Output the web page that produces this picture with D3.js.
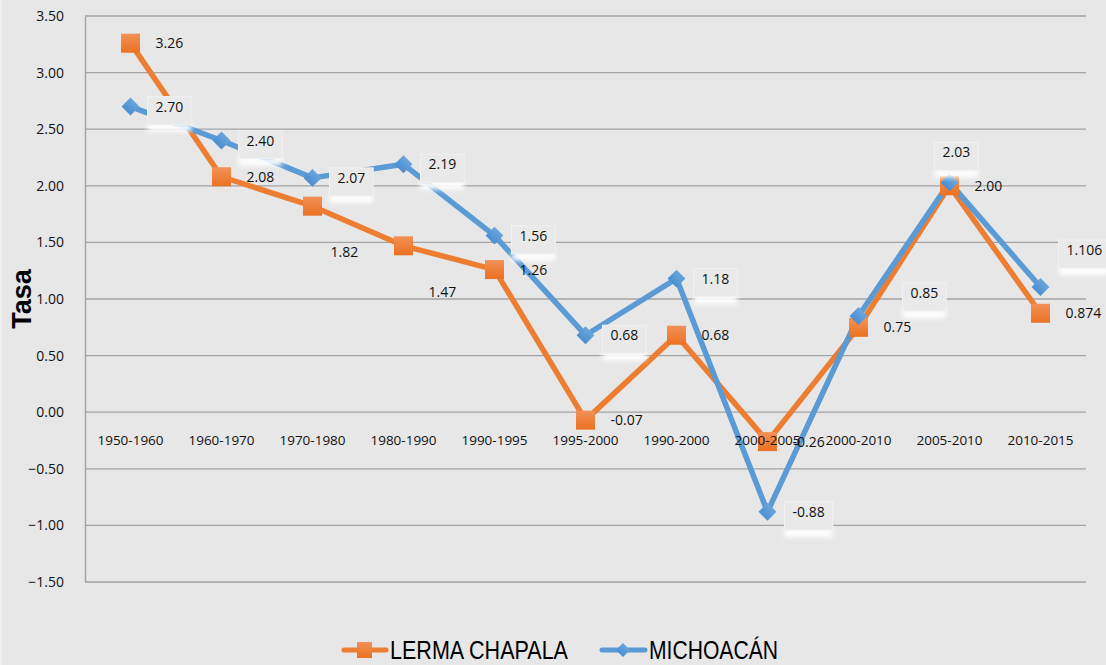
<!DOCTYPE html>
<html>
  <head>
    <meta charset="utf-8">
    <title>Tasa de crecimiento</title>
    <script src="https://d3js.org/d3.v7.min.js"></script>
    <style>
      body { margin: 0; background: #e7e7e7; }
      svg { display: block; }
    </style>
  </head>
  <body>
    <div id="chart"></div>
    <script>
      // Data
      var categories = ["1950-1960", "1960-1970", "1970-1980", "1980-1990", "1990-1995",
        "1995-2000", "1990-2000", "2000-2005", "2000-2010", "2005-2010", "2010-2015"];
      var lermaValues = [3.26, 2.08, 1.82, 1.47, 1.26, -0.07, 0.68, -0.26, 0.75, 2.00, 0.874];
      var lermaLabels = ["3.26", "2.08", "1.82", "1.47", "1.26", "-0.07", "0.68", "-0.26", "0.75", "2.00", "0.874"];
      var michoacanValues = [2.70, 2.40, 2.07, 2.19, 1.56, 0.68, 1.18, -0.88, 0.85, 2.03, 1.106];
      var michoacanLabels = ["2.70", "2.40", "2.07", "2.19", "1.56", "0.68", "1.18", "-0.88", "0.85", "2.03", "1.106"];
      var yTicks = [3.5, 3.0, 2.5, 2.0, 1.5, 1.0, 0.5, 0.0, -0.5, -1.0, -1.5];
      var seriesNames = ["LERMA CHAPALA", "MICHOACÁN"];

      var width = 1106, height = 665;
      var margin = {left: 85, right: 20, top: 16, bottom: 83};
      var orange = "#ed7d31", blue = "#5b9bd5";
      var font = "'Open Sans', 'Noto Sans', sans-serif";

      var svg = d3.select("#chart").append("svg")
        .attr("width", width).attr("height", height);

      var defs = svg.append("defs");
      var gO = defs.append("linearGradient").attr("id", "gOrange")
        .attr("x1", 0).attr("y1", 0).attr("x2", 0).attr("y2", 1);
      gO.append("stop").attr("offset", "0%").attr("stop-color", "#f29158");
      gO.append("stop").attr("offset", "100%").attr("stop-color", "#eb7121");
      var gB = defs.append("linearGradient").attr("id", "gBlue")
        .attr("x1", 0).attr("y1", 0).attr("x2", 0).attr("y2", 1);
      gB.append("stop").attr("offset", "0%").attr("stop-color", "#6aa6dc");
      gB.append("stop").attr("offset", "100%").attr("stop-color", "#4a8fd0");
      defs.append("filter").attr("id", "blur")
        .attr("x", "-30%").attr("y", "-100%").attr("width", "160%").attr("height", "300%")
        .append("feGaussianBlur").attr("stdDeviation", 2.5);

      svg.append("rect").attr("width", width).attr("height", height).attr("fill", "#e7e7e7");
      svg.append("rect").attr("width", 2).attr("height", height).attr("fill", "#f0f0f0");

      var x = d3.scaleBand().domain(categories)
        .range([margin.left, width - margin.right]);
      var y = d3.scaleLinear().domain([-1.5, 3.5])
        .range([height - margin.bottom, margin.top]);
      var cx = function (i) { return x(categories[i]) + x.bandwidth() / 2; };

      // gridlines
      svg.append("g").selectAll("line").data(yTicks).join("line")
        .attr("x1", margin.left).attr("x2", width - margin.right)
        .attr("y1", function (d) { return y(d); }).attr("y2", function (d) { return y(d); })
        .attr("stroke", "#a3a3a3").attr("stroke-width", 1.3);

      // y axis
      var yAxis = svg.append("g")
        .attr("transform", "translate(" + margin.left + ",0)")
        .call(d3.axisLeft(y).tickValues(yTicks).tickFormat(d3.format(".2f")).tickSize(0).tickPadding(21));
      yAxis.select(".domain").attr("stroke", "#a3a3a3").attr("stroke-width", 1.5);
      yAxis.selectAll("text").attr("font-family", font).attr("font-size", 14).attr("fill", "#111");

      svg.append("text")
        .attr("transform", "translate(31,299) rotate(-90)")
        .attr("text-anchor", "middle")
        .attr("font-family", "'Liberation Sans', Arial, sans-serif")
        .attr("font-weight", "bold").attr("font-size", 27).attr("fill", "#000")
        .text("Tasa");

      var line = d3.line()
        .x(function (d, i) { return cx(i); })
        .y(function (d) { return y(d); });

      svg.append("path").datum(lermaValues).attr("d", line)
        .attr("fill", "none").attr("stroke", orange).attr("stroke-width", 5.5)
        .attr("stroke-linejoin", "round");
      svg.append("path").datum(michoacanValues).attr("d", line)
        .attr("fill", "none").attr("stroke", blue).attr("stroke-width", 5.5)
        .attr("stroke-linejoin", "round");

      svg.append("g").selectAll("rect").data(lermaValues).join("rect")
        .attr("x", function (d, i) { return cx(i) - 9.5; })
        .attr("y", function (d) { return y(d) - 9.5; })
        .attr("width", 19).attr("height", 19)
        .attr("fill", "url(#gOrange)");

      var diamond = d3.symbol().type(d3.symbolSquare).size(160);
      svg.append("g").selectAll("path").data(michoacanValues).join("path")
        .attr("d", diamond)
        .attr("transform", function (d, i) { return "translate(" + cx(i) + "," + y(d) + ") rotate(45)"; })
        .attr("fill", "url(#gBlue)");

      // x labels just under the zero line, drawn over the markers like the original
      svg.append("g").selectAll("text").data(categories).join("text")
        .attr("x", function (d, i) { return cx(i); })
        .attr("y", y(0) + 33)
        .attr("text-anchor", "middle")
        .attr("font-family", font).attr("font-size", 13.5).attr("fill", "#111")
        .text(function (d) { return d; });

      // label placement: offset from the point to text start / text middle
      var lermaPlace = {2: [18, 46], 3: [25, 46]};
      var michPlace = {8: [52, -23], 9: [-7, -30], 10: [26, -37]};

      function drawLabels(values, labels, place, boxed) {
        var g = svg.append("g");
        values.forEach(function (v, i) {
          var off = place[i] || [25, 0];
          var tx = cx(i) + off[0], ty = y(v) + off[1];
          var grp = g.append("g");
          var t = grp.append("text")
            .attr("x", tx).attr("y", ty + 5)
            .attr("font-family", font).attr("font-size", 14).attr("fill", "#111")
            .text(labels[i]);
          if (boxed) {
            var w = t.node().getComputedTextLength();
            grp.insert("rect", "text")
              .attr("x", tx - 8).attr("y", ty + 17).attr("width", w + 16).attr("height", 8)
              .attr("fill", "#fff").attr("filter", "url(#blur)");
            grp.insert("rect", "text")
              .attr("x", tx - 8).attr("y", ty - 10).attr("width", w + 16).attr("height", 28)
              .attr("fill", "#e9e9e9").attr("stroke", "#f1f1f1").attr("stroke-width", 1);
          }
        });
      }
      drawLabels(lermaValues, lermaLabels, lermaPlace, false);
      drawLabels(michoacanValues, michoacanLabels, michPlace, true);

      // legend
      var legend = svg.append("g");
      var legendFont = "'Liberation Sans Narrow', 'Arial Narrow', 'Liberation Sans', Arial, sans-serif";
      legend.append("line").attr("x1", 344).attr("x2", 386).attr("y1", 650).attr("y2", 650)
        .attr("stroke", orange).attr("stroke-width", 5).attr("stroke-linecap", "round");
      legend.append("rect").attr("x", 357).attr("y", 642).attr("width", 15).attr("height", 16)
        .attr("fill", "url(#gOrange)");
      legend.append("text").attr("x", 390).attr("y", 659)
        .attr("font-family", legendFont).attr("font-size", 25).attr("fill", "#000")
        .attr("textLength", 178).attr("lengthAdjust", "spacingAndGlyphs")
        .text(seriesNames[0]);
      legend.append("line").attr("x1", 602).attr("x2", 645).attr("y1", 650).attr("y2", 650)
        .attr("stroke", blue).attr("stroke-width", 5).attr("stroke-linecap", "round");
      legend.append("path").attr("d", d3.symbol().type(d3.symbolSquare).size(100))
        .attr("transform", "translate(623,650) rotate(45)").attr("fill", "url(#gBlue)");
      legend.append("text").attr("x", 649).attr("y", 659)
        .attr("font-family", legendFont).attr("font-size", 25).attr("fill", "#000")
        .attr("textLength", 129).attr("lengthAdjust", "spacingAndGlyphs")
        .text(seriesNames[1]);
    </script>
  </body>
</html>
